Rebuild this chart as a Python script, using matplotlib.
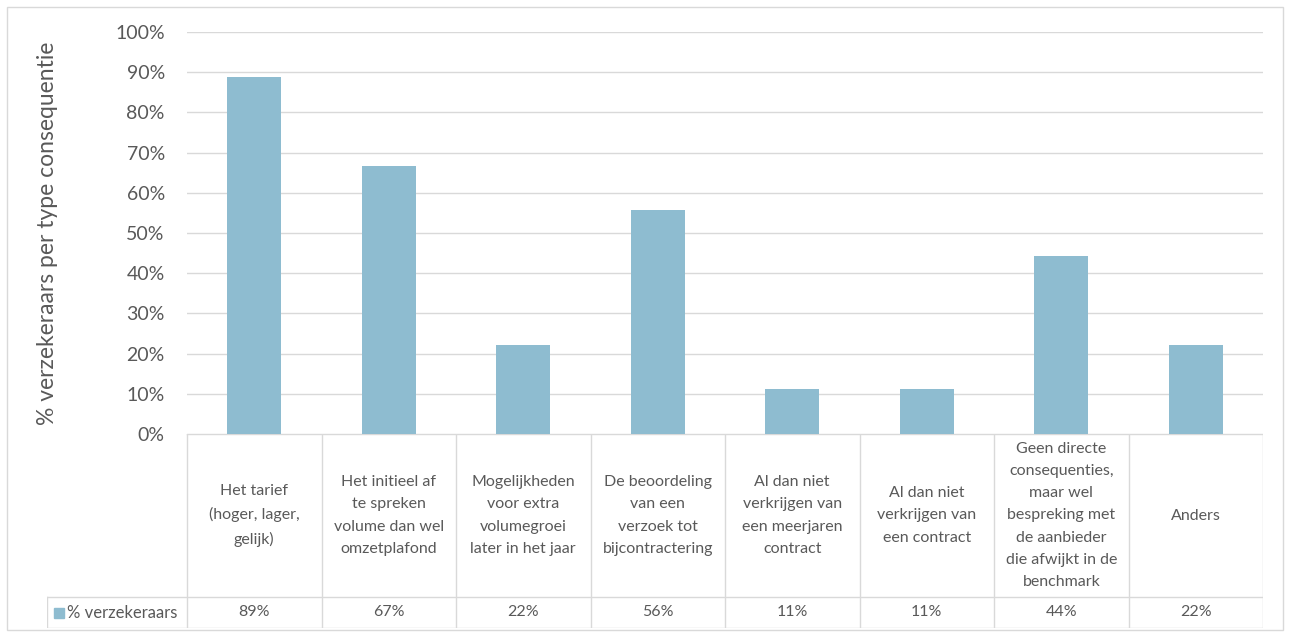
import matplotlib
matplotlib.use("Agg")
import matplotlib.pyplot as plt
from matplotlib.patches import Rectangle

categories = [
    "Het tarief\n(hoger, lager,\ngelijk)",
    "Het initieel af\nte spreken\nvolume dan wel\nomzetplafond",
    "Mogelijkheden\nvoor extra\nvolumegroei\nlater in het jaar",
    "De beoordeling\nvan een\nverzoek tot\nbijcontractering",
    "Al dan niet\nverkrijgen van\neen meerjaren\ncontract",
    "Al dan niet\nverkrijgen van\neen contract",
    "Geen directe\nconsequenties,\nmaar wel\nbespreking met\nde aanbieder\ndie afwijkt in de\nbenchmark",
    "Anders",
]
values = [88.9, 66.7, 22.2, 55.6, 11.1, 11.1, 44.4, 22.2]
value_labels = ["89%", "67%", "22%", "56%", "11%", "11%", "44%", "22%"]
series_name = "% verzekeraars"
yticks = [0, 10, 20, 30, 40, 50, 60, 70, 80, 90, 100]
ylabel = "% verzekeraars per type consequentie"

W, H = 1290, 635
BAR = "#8ebcd0"
GRID = "#d9d9d9"
TXT = "#595959"
FONT = ["Lato", "DejaVu Sans"]
plt.rcParams["font.family"] = FONT

fig = plt.figure(figsize=(W / 100, H / 100), dpi=100)

# outer frame
fig.patches.append(Rectangle((7 / W, 1 - 630 / H), (1283 - 7) / W, (630 - 7) / H,
                             transform=fig.transFigure, fill=False,
                             edgecolor="#d9d9d9", lw=1.0))

px0, px1 = 187, 1263
py_top, py_bot = 32, 434
ax = fig.add_axes([px0 / W, 1 - py_bot / H, (px1 - px0) / W, (py_bot - py_top) / H])
n = len(values)
x = list(range(n))
ax.bar(x, values, width=0.4, color=BAR, zorder=3)
ax.set_xlim(-0.5, n - 0.5)
ax.set_ylim(0, 100)
ax.set_yticks(yticks)
ax.set_yticklabels([f"{t}%" for t in yticks])
ax.tick_params(axis="y", length=0, pad=16, labelsize=14, labelcolor=TXT)
ax.tick_params(axis="x", length=0, labelbottom=False)
ax.grid(axis="y", color=GRID, lw=1.0, zorder=0)
for s in ax.spines.values():
    s.set_visible(False)
ax.set_ylabel(ylabel, fontsize=16.5, color=TXT)
ax.yaxis.set_label_coords((58 - px0) / (px1 - px0), 0.5)

# data table
tx0, tbot = 47, 628
sep = 597
cw = (px1 - px0) / n
tab = fig.add_axes([tx0 / W, 1 - tbot / H, (px1 - tx0) / W, (tbot - py_bot) / H])
left = -0.5 - (px0 - tx0) / cw
tab.set_xlim(left, n - 0.5)
tab.set_ylim(0, tbot - py_bot)
tab.axis("off")
ysep = tbot - sep
ytop = tbot - py_bot
lc = dict(color=GRID, lw=1.0)
tab.plot([-0.5, n - 0.5], [ytop, ytop], **lc)
tab.plot([left, n - 0.5], [ysep, ysep], **lc)
tab.plot([left, n - 0.5], [0, 0], **lc)
tab.plot([left, left], [0, ysep], **lc)
for i in range(n + 1):
    tab.plot([i - 0.5, i - 0.5], [0, ytop], **lc)
for i, (c, v) in enumerate(zip(categories, value_labels)):
    tab.text(i, (ysep + ytop) / 2, c, ha="center", va="center", fontsize=11.5,
             color=TXT, linespacing=1.75)
    tab.text(i, ysep / 2, v, ha="center", va="center", fontsize=11.5, color=TXT)
# legend key
kx = left + 7 / cw
tab.add_patch(Rectangle((kx, ysep / 2 - 5), 10 / cw, 10, color=BAR))
tab.text(kx + 13 / cw, ysep / 2, series_name, ha="left", va="center",
         fontsize=12, color=TXT)

fig.savefig("out.png", dpi=100)
